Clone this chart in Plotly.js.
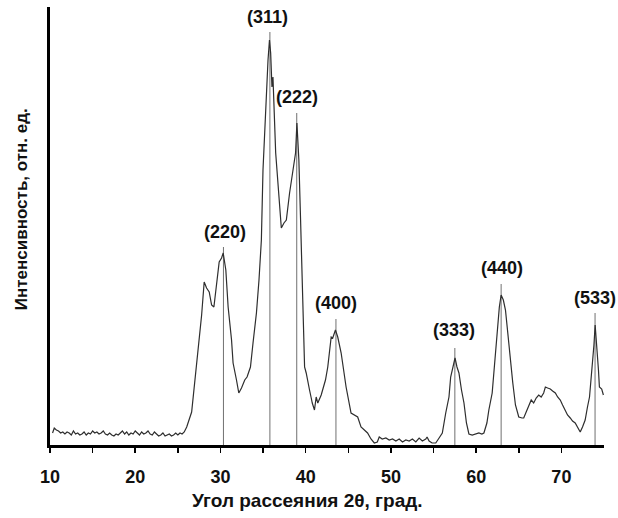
<!DOCTYPE html>
<html>
<head>
<meta charset="utf-8">
<script src="https://cdn.plot.ly/plotly-3.0.1.min.js"></script>
<style>html,body{margin:0;padding:0;background:#fff;}#chart{width:618px;height:518px;}</style>
</head>
<body>
<div id="chart"></div>
<script>
// Diffraction angle 2θ (deg)
const twoTheta = [
  10.3,10.5,10.75,11.0,11.25,11.5,11.75,12.0,12.25,12.5,12.75,13.0,13.25,13.5,13.75,14.0,14.25,14.5,14.75,15.0,
  15.25,15.5,15.75,16.0,16.25,16.5,16.75,17.0,17.25,17.5,17.75,18.0,18.25,18.5,18.75,19.0,19.25,19.5,19.75,20.0,
  20.25,20.5,20.75,21.0,21.25,21.5,21.75,22.0,22.25,22.5,22.75,23.0,23.25,23.5,23.75,24.0,24.25,24.5,24.75,25.0,
  25.25,25.5,25.75,26.04,26.62,27.0,27.39,27.79,28.09,28.37,28.68,28.96,29.23,29.54,29.85,30.13,30.32,30.63,30.9,31.3,
  31.48,31.88,32.15,32.47,32.85,33.12,33.52,33.82,34.22,34.52,34.8,34.99,35.31,35.58,35.75,35.89,36.04,36.16,36.48,36.86,
  37.14,37.45,37.73,38.11,38.5,38.81,38.97,39.08,39.2,39.4,39.67,39.87,40.06,40.25,40.45,40.65,40.77,41.03,41.23,41.42,
  41.82,42.32,42.59,42.99,43.17,43.49,43.76,44.16,44.74,45.32,45.71,46.1,46.49,46.88,47.26,47.66,48.05,48.4,48.63,48.98,
  49.41,49.8,50.19,50.58,50.97,51.36,51.75,52.14,52.52,52.92,53.31,53.69,54.09,54.24,54.48,54.83,55.26,55.65,56.03,56.43,
  56.81,57.01,57.28,57.52,57.75,57.98,58.28,58.57,58.86,59.15,59.54,59.94,60.32,60.67,60.91,61.26,61.49,61.88,62.19,62.46,
  62.72,62.93,63.19,63.44,63.71,64.03,64.3,64.61,65.0,65.38,65.58,65.87,66.17,66.46,66.75,67.04,67.34,67.63,67.92,68.12,
  68.39,68.7,68.97,69.29,69.56,69.87,70.14,70.46,70.72,71.04,71.31,71.62,71.89,72.21,72.48,72.79,73.06,73.3,73.47,73.68,
  73.82,73.96,74.11,74.23,74.35,74.46,74.58,74.73,74.93
];
// Intensity (arb. units)
const intensity = [
  12,17,15,14,12,13,11,13,12,10,14,11,12,10,11,13,10,12,11,14,
  12,13,11,12,14,11,10,12,10,9,11,10,12,14,11,13,10,12,11,14,
  12,10,13,11,12,14,11,10,13,11,9,10,12,9,10,11,9,10,12,10,
  12,11,13,18,33,63,98,130,163,157,153,140,138,158,183,187,192,175,138,105,
  82,65,52,57,65,68,78,102,132,165,205,275,342,385,405,392,358,368,292,252,
  217,222,225,252,275,292,322,308,285,225,125,78,72,62,55,47,42,35,48,42,
  50,65,78,108,107,115,108,92,58,32,30,28,18,15,12,6,2,3,8,6,
  7,5,6,4,6,3,5,4,6,3,7,4,6,8,4,2,2,7,12,32,
  48,68,80,87,78,72,55,42,22,11,10,11,12,11,12,22,35,52,85,118,
  138,150,145,135,110,88,62,40,28,27,27,33,40,45,42,47,50,48,52,58,
  57,56,54,52,48,45,40,35,30,27,24,22,18,13,18,25,38,48,65,82,
  100,120,105,95,75,58,57,56,50
];
// Reflections (hkl)
const peakLabels = ["(220)","(311)","(222)","(400)","(333)","(440)","(533)"];
const peakPos    = [30.35, 35.8, 38.95, 43.55, 57.5, 62.93, 73.95];
const lineTop    = [198, 413, 332, 126, 97, 161, 132];
const labelX     = [30.5, 35.55, 38.93, 43.6, 57.4, 63.0, 73.9];
const labelY     = [213, 428, 348, 142, 115, 177, 147];
// Axis ticks
const tickVals = [10,15,20,25,30,35,40,45,50,55,60,65,70];
const tickText = ["10","","20","","30","","40","","50","","60","","70"];

const lx = [], ly = [];
peakPos.forEach((p, i) => { lx.push(p, p, null); ly.push(0, lineTop[i], null); });

const FONT = 'Liberation Sans, Arial, sans-serif';

const traces = [
  {x: lx, y: ly, type: 'scatter', mode: 'lines', line: {color: '#707070', width: 1}, hoverinfo: 'skip', showlegend: false},
  {x: twoTheta, y: intensity, type: 'scatter', mode: 'lines', line: {color: '#2e2e2e', width: 1.2}, showlegend: false}
];

const annotations = peakLabels.map((t, i) => ({
  x: labelX[i], y: labelY[i], xref: 'x', yref: 'y', text: t, showarrow: false,
  font: {family: FONT, size: 18, color: '#111', weight: 'bold'}, xanchor: 'center', yanchor: 'middle'
}));
annotations.push({
  x: 0.465, y: -0.126, xref: 'paper', yref: 'paper', text: 'Угол рассеяния 2θ, град.', showarrow: false,
  font: {family: FONT, size: 19, color: '#111', weight: 'bold'}, xanchor: 'center', yanchor: 'middle'
});
annotations.push({
  x: -0.05, y: 0.539, xref: 'paper', yref: 'paper', text: 'Интенсивность, отн. ед.', showarrow: false, textangle: -90,
  font: {family: FONT, size: 17, color: '#111', weight: 'bold'}, xanchor: 'center', yanchor: 'middle'
});

const layout = {
  width: 618, height: 518,
  margin: {l: 50, r: 14, t: 7, b: 73},
  paper_bgcolor: '#fff', plot_bgcolor: '#fff',
  showlegend: false,
  xaxis: {
    range: [10, 75], showgrid: false, zeroline: false,
    showline: true, linecolor: '#000', linewidth: 3,
    tickmode: 'array', tickvals: tickVals, ticktext: tickText,
    ticks: 'outside', ticklen: 5, tickwidth: 1.5, tickcolor: '#000',
    ticklabelstandoff: 8,
    tickfont: {family: FONT, size: 18, color: '#111', weight: 'bold'}
  },
  yaxis: {
    range: [0, 438], showgrid: false, zeroline: false,
    showline: true, linecolor: '#000', linewidth: 3,
    showticklabels: false, ticks: ''
  },
  annotations: annotations
};

Plotly.newPlot('chart', traces, layout, {displayModeBar: false, staticPlot: true});
</script>
</body>
</html>
